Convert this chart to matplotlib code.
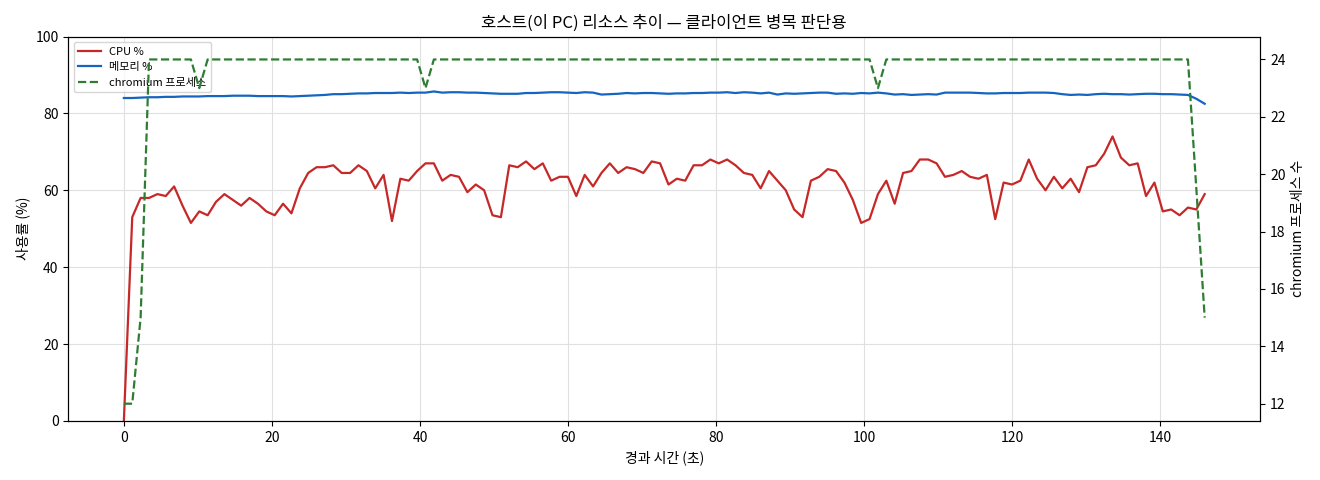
import numpy as np
import matplotlib
matplotlib.use("Agg")
import matplotlib.pyplot as plt

plt.rcParams['font.family'] = ['Noto Sans CJK KR', 'DejaVu Sans']

# sampled roughly every 1.13 s over 146 s
N = 130
T_END = 146
t = np.arange(N) * T_END / (N - 1)

cpu = [0, 53, 58, 58, 59, 58.5, 61, 56, 51.5, 54.5, 53.5, 57, 59, 57.5, 56, 58, 56.5, 54.5, 53.5, 56.5,
       54, 60.5, 64.5, 66, 66, 66.5, 64.5, 64.5, 66.5, 65, 60.5, 64, 52, 63, 62.5, 65, 67, 67, 62.5, 64,
       63.5, 59.5, 61.5, 60, 53.5, 53, 66.5, 66, 67.5, 65.5, 67, 62.5, 63.5, 63.5, 58.5, 64, 61, 64.5, 67, 64.5,
       66, 65.5, 64.5, 67.5, 67, 61.5, 63, 62.5, 66.5, 66.5, 68, 67, 68, 66.5, 64.5, 64, 60.5, 65, 62.5, 60,
       55, 53, 62.5, 63.5, 65.5, 65, 62, 57.5, 51.5, 52.5, 59, 62.5, 56.5, 64.5, 65, 68, 68, 67, 63.5, 64,
       65, 63.5, 63, 64, 52.5, 62, 61.5, 62.5, 68, 63, 60, 63.5, 60.5, 63, 59.5, 66, 66.5, 69.5, 74, 68.5,
       66.5, 67, 58.5, 62, 54.5, 55, 53.5, 55.5, 55, 59]

mem = [84.0, 84.0, 84.1, 84.2, 84.2, 84.3, 84.3, 84.4, 84.4, 84.4, 84.5, 84.5, 84.5, 84.6, 84.6, 84.6, 84.5, 84.5, 84.5, 84.5,
       84.4, 84.5, 84.6, 84.7, 84.8, 85.0, 85.0, 85.1, 85.2, 85.2, 85.3, 85.3, 85.3, 85.4, 85.3, 85.4, 85.4, 85.7, 85.4, 85.5,
       85.5, 85.4, 85.4, 85.3, 85.2, 85.1, 85.1, 85.1, 85.3, 85.3, 85.4, 85.5, 85.5, 85.4, 85.3, 85.5, 85.4, 84.9, 85.0, 85.1,
       85.3, 85.2, 85.3, 85.3, 85.2, 85.1, 85.2, 85.2, 85.3, 85.3, 85.4, 85.4, 85.5, 85.3, 85.5, 85.4, 85.2, 85.4, 84.9, 85.2,
       85.1, 85.2, 85.3, 85.4, 85.4, 85.1, 85.2, 85.1, 85.3, 85.2, 85.4, 85.2, 84.9, 85.0, 84.8, 84.9, 85.0, 84.9, 85.4, 85.4,
       85.4, 85.4, 85.3, 85.2, 85.2, 85.3, 85.3, 85.3, 85.4, 85.4, 85.4, 85.3, 85.0, 84.8, 84.9, 84.8, 85.0, 85.1, 85.0, 85.0,
       84.9, 85.0, 85.1, 85.1, 85.0, 85.0, 84.9, 84.8, 83.8, 82.5]

chrom = [12, 12, 15] + [24] * 6 + [23] + [24] * 26 + [23] + [24] * 53 + [23] + [24] * 37 + [19.5, 15]

fig, ax = plt.subplots(figsize=(13.2, 4.8), dpi=100)
ax2 = ax.twinx()

l1, = ax.plot(t, cpu, color="#c62828", lw=1.6, label="CPU %")
l2, = ax.plot(t, mem, color="#1565c0", lw=1.6, label="메모리 %")
l3, = ax2.plot(t, chrom, color="#2e7d32", lw=1.6, ls="--", label="chromium 프로세스")

ax.set_ylim(0, 100)
ax.set_xlim(-7.5, 153.5)
ax2.set_ylim(11.4, 24.8)
ax.grid(True, color="#e0e0e0", lw=0.8)
ax.set_xlabel("경과 시간 (초)")
ax.set_ylabel("사용률 (%)")
ax2.set_ylabel("chromium 프로세스 수")
ax.set_title("호스트(이 PC) 리소스 추이 — 클라이언트 병목 판단용")
ax.legend(handles=[l1, l2, l3], loc="upper left", fontsize=8)

plt.tight_layout()
plt.savefig("out.png", dpi=100)
